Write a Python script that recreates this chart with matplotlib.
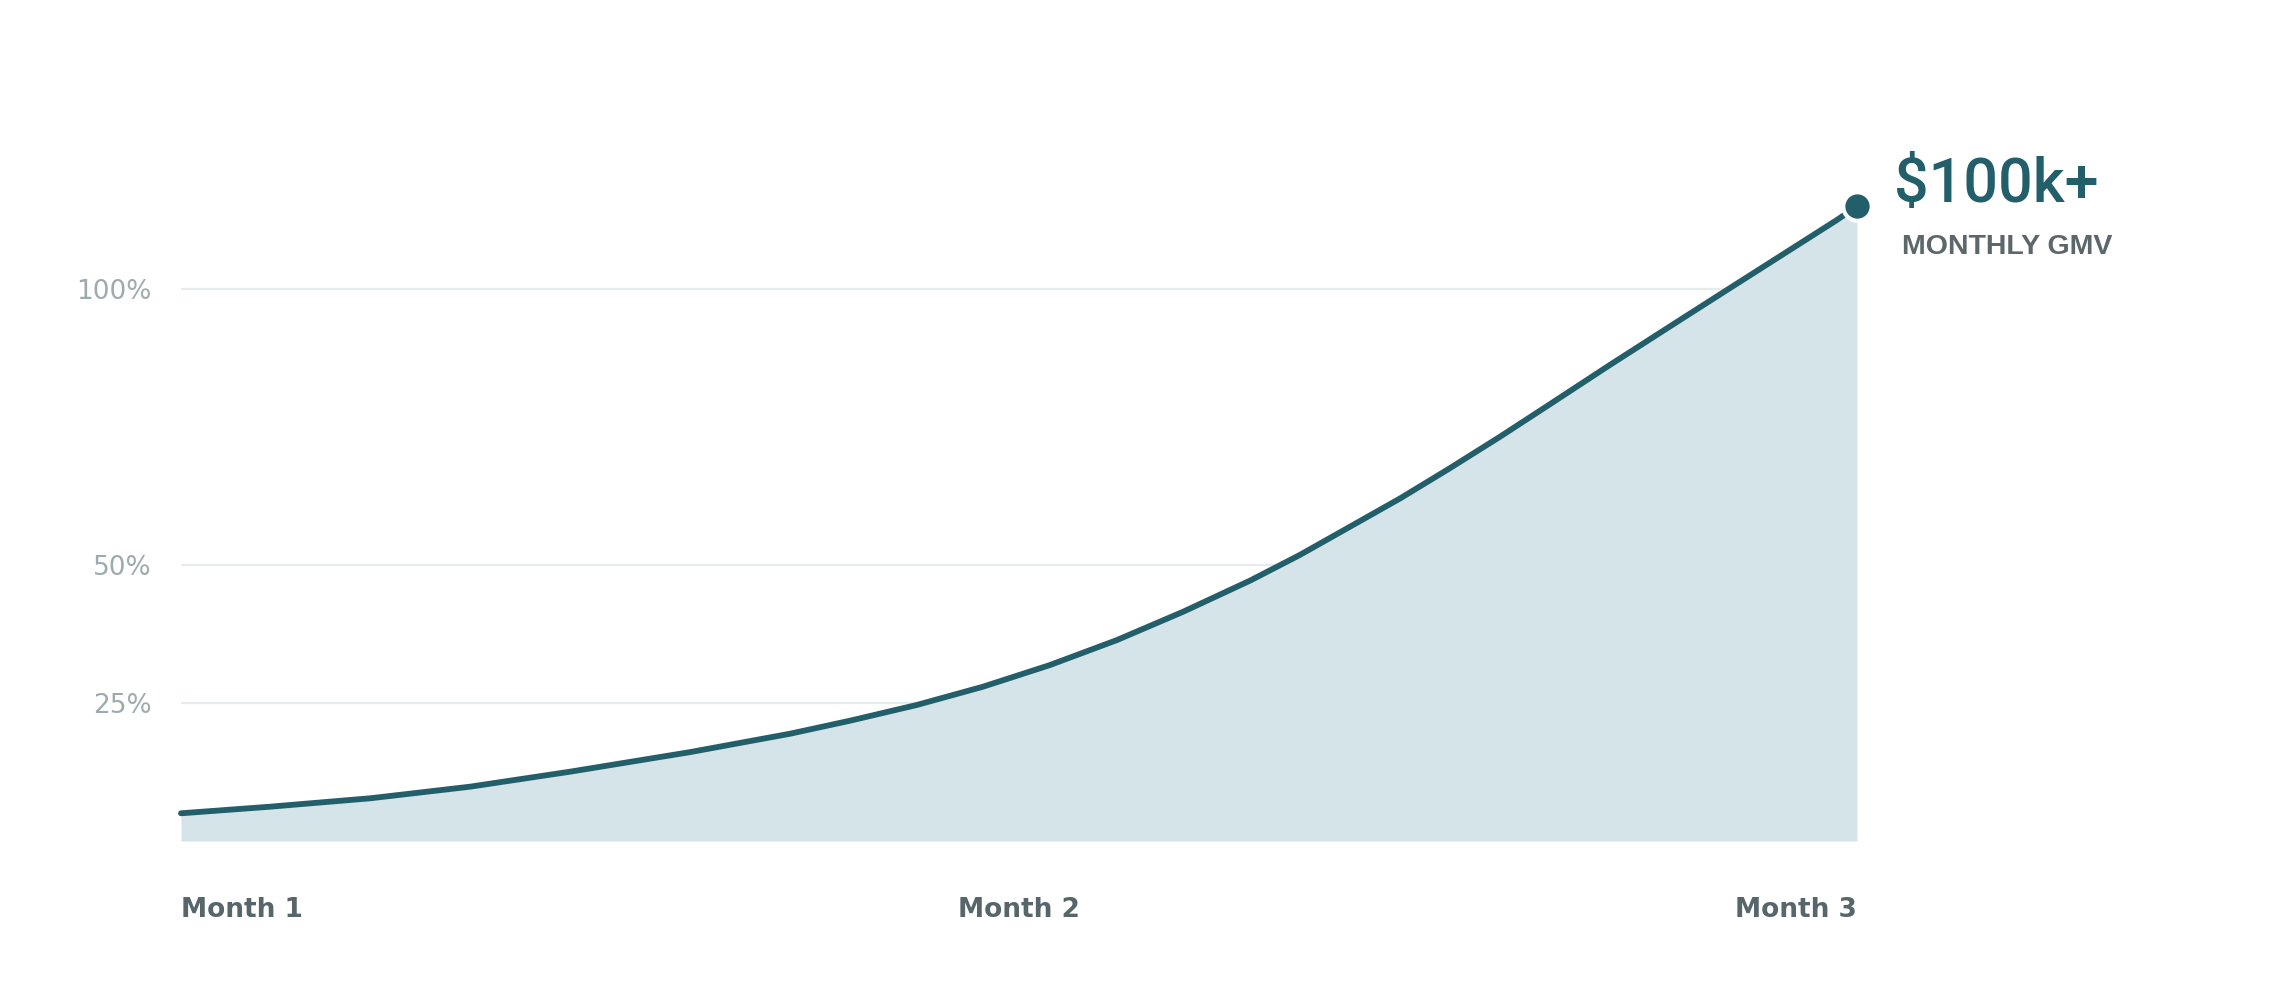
import matplotlib
matplotlib.use("Agg")
import matplotlib.pyplot as plt

# growth curve (months since start, % of target)
months = [0.0, 0.106, 0.226, 0.345, 0.464, 0.607, 0.727, 0.798, 0.878, 0.957,
          1.037, 1.117, 1.196, 1.276, 1.335, 1.395, 1.455, 1.514, 1.574, 1.634,
          1.705, 1.785, 1.848, 1.976, 2.0]
gmv_pct = [5.02, 6.21, 7.74, 9.84, 12.55, 16.09, 19.44, 21.78, 24.64, 27.95,
           31.88, 36.41, 41.54, 47.19, 51.81, 56.94, 62.08, 67.52, 73.24, 79.17,
           86.23, 94.02, 100.13, 112.5, 115.0]

tick_values = [25, 50, 100]
tick_labels = ["25%", "50%", "100%"]
month_labels = ["Month 1", "Month 2", "Month 3"]
month_pos = [0, 1, 2]

headline = "$100k+"
subhead = "MONTHLY GMV"

LINE = "#225F6A"
FILL = "#D4E4E8"
GRID = "#E6EBEE"
TICK = "#9DABAF"
LABEL = "#56666B"

fig = plt.figure(figsize=(22.8, 9.99), dpi=100, facecolor="white")
ax = fig.add_axes([181 / 2280, 158 / 999, 1676 / 2280, 662.4 / 999])
ax.set_xlim(0, 2)
ax.set_ylim(0, 120)

ax.fill_between(months, gmv_pct, 0, color=FILL, linewidth=0, zorder=2)
ax.plot(months, gmv_pct, color=LINE, linewidth=4.2, solid_capstyle="round",
        solid_joinstyle="round", clip_on=False, zorder=3)
ax.plot([months[-1]], [gmv_pct[-1]], "o", markersize=20.5, color=LINE,
        markeredgecolor="white", markeredgewidth=3, clip_on=False, zorder=4)

ax.set_yticks(tick_values)
ax.set_yticklabels(tick_labels)
ax.set_xticks([])
ax.tick_params(axis="y", length=0, pad=21, labelsize=19, labelcolor=TICK)
ax.yaxis.grid(True, color=GRID, linewidth=1.6)
ax.set_axisbelow(True)
for side in ax.spines.values():
    side.set_visible(False)

for pos, text in zip(month_pos, month_labels):
    ha = "left" if pos == 0 else ("right" if pos == 2 else "center")
    ax.annotate(text, xy=(pos, 0), xycoords=("data", "axes fraction"),
                xytext=(0, -76), textcoords="offset pixels", ha=ha, va="baseline",
                fontsize=19, fontweight="bold", color=LABEL)

ax.annotate(headline, xy=(months[-1], gmv_pct[-1]), xytext=(37, 4),
            textcoords="offset pixels", ha="left", va="baseline",
            fontsize=44, family="Roboto", fontweight="medium", color=LINE,
            annotation_clip=False)
ax.annotate(subhead, xy=(months[-1], gmv_pct[-1]), xytext=(45, -48),
            textcoords="offset pixels", ha="left", va="baseline",
            fontsize=20.5, family="Liberation Sans", fontweight="bold", color="#5B676B",
            annotation_clip=False)

fig.savefig("out.png", dpi=100, facecolor="white")
